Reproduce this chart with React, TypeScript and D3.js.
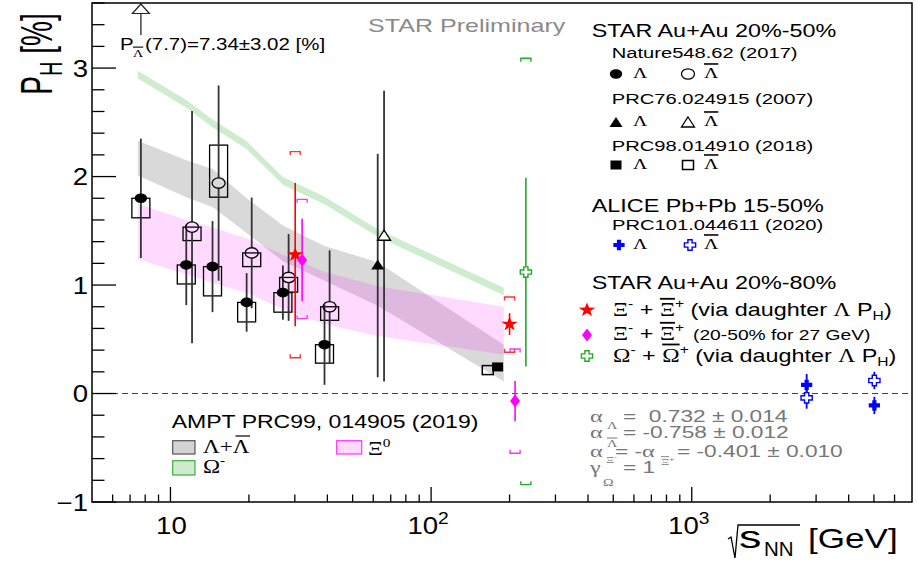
import React from 'react';
import * as d3 from 'd3';

const W = 918, H = 562;
const X0 = 92, X1 = 912, Y0 = 3, Y1 = 502;
const SANS = "'Liberation Sans', Arial, Helvetica, sans-serif";
const SERIF = "'Liberation Serif', 'DejaVu Serif', serif";

// ---- data ----
const natureLambdaE = [7.7, 11.5, 14.5, 19.6, 27, 39];
const natureLambdaP = [1.80, 1.185, 1.17, 0.84, 0.93, 0.45];
const natureLambdaStat = [0.55, 0.37, 0.42, 0.27, 0.25, 0.37];
const natureLambdaSysHi = [1.80, 1.185, 1.17, 0.84, 0.93, 0.45];
const natureLambdaSysLo = [1.62, 1.01, 0.90, 0.66, 0.75, 0.28];

const natureAntiE = [12.1, 15.3, 20.5, 28.4, 40.8];
const natureAntiP = [1.534, 1.94, 1.296, 1.07, 0.80];
const natureAntiStat = [1.07, 0.9, 0.51, 0.40, 0.52];
const natureAntiSysHi = [1.534, 2.29, 1.296, 1.07, 0.80];
const natureAntiSysLo = [1.41, 1.81, 1.17, 0.935, 0.675];
const offscaleE = 7.7;

const prc76LambdaE = [62.4];
const prc76LambdaP = [1.18];
const prc76LambdaStat = [1.03];
const prc76AntiE = [66];
const prc76AntiP = [1.45];
const prc76AntiStat = [1.34];

const prc98LambdaE = [180];
const prc98LambdaP = [0.245];
const prc98AntiE = [165];
const prc98AntiP = [0.216];

const aliceE = [2760, 5020];
const aliceLambdaP = [0.08, -0.11];
const aliceLambdaStat = [0.10, 0.08];
const aliceAntiP = [-0.04, 0.12];
const aliceAntiStat = [0.10, 0.08];

const xiStarE = [30.1, 200];
const xiStarP = [1.28, 0.64];
const xiStarStat = [0.66, 0.10];
const xiStarSysHi = [2.23, 0.89];
const xiStarSysLo = [0.33, 0.38];

const xiDiaE = [32, 210];
const xiDiaP = [1.23, -0.07];
const xiDiaStat = [0.38, 0.185];
const xiDiaSysHi = [1.79, 0.41];
const xiDiaSysLo = [0.69, -0.55];

const omegaE = [231];
const omegaP = [1.12];
const omegaStat = [0.87];
const omegaSysHi = [3.09];
const omegaSysLo = [-0.84];

const amptE = [7.5, 11.5, 14.5, 19.6, 27, 39, 62.4, 190];
const amptLamHi = [2.33, 2.15, 2.07, 1.80, 1.55, 1.36, 1.21, 0.45];
const amptLamLo = [2.01, 1.81, 1.72, 1.48, 1.22, 1.04, 0.81, 0.11];
const amptXiHi = [1.75, 1.60, 1.53, 1.43, 1.28, 1.12, 0.99, 0.80];
const amptXiLo = [1.24, 1.10, 1.02, 0.93, 0.78, 0.64, 0.53, 0.36];
const amptOmHi = [2.975, 2.705, 2.525, 2.325, 1.995, 1.815, 1.515, 0.975];
const amptOmLo = [2.905, 2.635, 2.455, 2.255, 1.925, 1.745, 1.445, 0.905];

const yTicks = [-1, 0, 1, 2, 3];
const xMajor = [10, 100, 1000];
const xLabelExp = ['', '2', '3'];

// ---- scales ----
const x = d3.scaleLog().domain([5, 7000]).range([X0, X1]);
const y = d3.scaleLinear().domain([-1, 3.6]).range([Y1, Y0]);

type TP = { x: number; y: number; size: number; sx?: number; anchor?: string; fill?: string; family?: string; children?: any };
const T = ({ x, y, size, sx = 1.28, anchor = 'start', fill = '#000', family = SANS, children }: TP) => (
  <text transform={`translate(${x},${y}) scale(${sx},1)`} fontSize={size} textAnchor={anchor as any} fill={fill} fontFamily={family} xmlSpace="preserve" style={{ whiteSpace: 'pre' }}>
    {children}
  </text>
);

const Marker = ({ type, cx, cy, color = '#000' }: { type: string; cx: number; cy: number; color?: string }) => {
  switch (type) {
    case 'circleF':
      return <ellipse cx={cx} cy={cy} rx={6.2} ry={4.8} fill={color} />;
    case 'circleO':
      return <ellipse cx={cx} cy={cy} rx={6.5} ry={5.2} fill="none" stroke={color} strokeWidth={1.3} />;
    case 'triF':
      return <path d={`M${cx},${cy - 6}L${cx + 6.5},${cy + 4}L${cx - 6.5},${cy + 4}Z`} fill={color} />;
    case 'triO':
      return <path d={`M${cx},${cy - 6}L${cx + 6.5},${cy + 4}L${cx - 6.5},${cy + 4}Z`} fill="#fff" stroke={color} strokeWidth={1.3} />;
    case 'sqF':
      return <rect x={cx - 5.5} y={cy - 4.5} width={11} height={9} fill={color} />;
    case 'sqO':
      return <rect x={cx - 5.5} y={cy - 4.5} width={11} height={9} fill="none" stroke={color} strokeWidth={1.5} />;
    case 'star': {
      const pts: string[] = [];
      for (let i = 0; i < 10; i++) {
        const r = i % 2 === 0 ? 7.5 : 3.0;
        const a = -Math.PI / 2 + (i * Math.PI) / 5;
        pts.push(`${cx + 1.15 * r * Math.cos(a)},${cy + r * Math.sin(a)}`);
      }
      return <polygon points={pts.join(' ')} fill={color} />;
    }
    case 'diamond':
      return <polygon points={`${cx},${cy - 6.5} ${cx + 5},${cy} ${cx},${cy + 6.5} ${cx - 5},${cy}`} fill={color} />;
    case 'crossF':
    case 'crossO': {
      const a = 2.1, h = 5.6, v = 5.2;
      const d = `M${cx - a},${cy - v}H${cx + a}V${cy - a}H${cx + h}V${cy + a}H${cx + a}V${cy + v}H${cx - a}V${cy + a}H${cx - h}V${cy - a}H${cx - a}Z`;
      return type === 'crossF' ? <path d={d} fill={color} /> : <path d={d} fill="#fff" stroke={color} strokeWidth={1.4} />;
    }
  }
  return null;
};

const ErrBar = ({ e, p, err, color, gap = 0, w = 1.8 }: any) => {
  const cx = x(e);
  const cy = y(p);
  if (gap > 0) {
    return (
      <g stroke={color} strokeWidth={w}>
        <line x1={cx} x2={cx} y1={y(p + err)} y2={cy - gap} />
        <line x1={cx} x2={cx} y1={cy + gap} y2={y(p - err)} />
      </g>
    );
  }
  return <line x1={cx} x2={cx} y1={y(p + err)} y2={y(p - err)} stroke={color} strokeWidth={w} />;
};

const Brackets = ({ e, hi, lo, color }: any) => {
  const cx = x(e);
  const hw = 5, t = 3.5;
  const yt = y(hi), yb = y(lo);
  return (
    <g stroke={color} strokeWidth={1.4} fill="none">
      <path d={`M${cx - hw},${yt + t}V${yt}H${cx + hw}V${yt + t}`} />
      <path d={`M${cx - hw},${yb - t}V${yb}H${cx + hw}V${yb - t}`} />
    </g>
  );
};

const band = (lo: number[], hi: number[]) =>
  d3.area<number>().x((_, i) => x(amptE[i])).y0((_, i) => y(lo[i])).y1((_, i) => y(hi[i]))(amptE as any) || '';

const GRAY = '#777';
const GSX = 1.42;
const gx = (X: number) => (X - 590) / GSX;

export default function App() {
  const yMinor: number[] = [];
  for (let v = -1; v <= 3.6001; v += 0.2) yMinor.push(Math.round(v * 10) / 10);
  const xMinor: number[] = [];
  for (const dec of [1, 10, 100, 1000]) for (let k = 1; k < 10; k++) { const v = dec * k; if (v > 5 && v < 7000) xMinor.push(v); }

  const bar = (e: number, p: number) => ({ cx: x(e), cy: y(p) });

  return (
    <svg width={W} height={H} style={{ display: 'block', position: 'absolute', left: 0, top: 0, background: '#fff' }}>
      <rect width={W} height={H} fill="#fff" />
      <defs>
        <clipPath id="plot"><rect x={X0} y={Y0} width={X1 - X0} height={Y1 - Y0} /></clipPath>
      </defs>

      {/* AMPT bands */}
      <g clipPath="url(#plot)">
        <path d={band(amptLamLo, amptLamHi)} fill="rgba(128,128,128,0.3)" />
        <path d={band(amptXiLo, amptXiHi)} fill="rgba(255,0,255,0.15)" />
        <path d={band(amptOmLo, amptOmHi)} fill="rgba(30,170,30,0.22)" />
      </g>

      {/* zero line */}
      <line x1={X0} x2={X1} y1={y(0)} y2={y(0)} stroke="#444" strokeWidth={1.2} strokeDasharray="6,4" />

      {/* Nature systematic boxes */}
      <g fill="none" stroke="#000" strokeWidth={1.3}>
        {natureLambdaE.map((e, i) => (
          <rect key={'lb' + i} x={x(e) - 9} y={y(natureLambdaSysHi[i])} width={18} height={y(natureLambdaSysLo[i]) - y(natureLambdaSysHi[i])} />
        ))}
        {natureAntiE.map((e, i) => (
          <rect key={'ab' + i} x={x(e) - 9} y={y(natureAntiSysHi[i])} width={18} height={y(natureAntiSysLo[i]) - y(natureAntiSysHi[i])} />
        ))}
      </g>

      {/* Nature error bars */}
      {natureLambdaE.map((e, i) => (
        <ErrBar key={'le' + i} e={e} p={natureLambdaP[i]} err={natureLambdaStat[i]} color="#333" />
      ))}
      {natureAntiE.map((e, i) => (
        <ErrBar key={'ae' + i} e={e} p={natureAntiP[i]} err={natureAntiStat[i]} color="#333" gap={5.2} />
      ))}
      {natureLambdaE.map((e, i) => {
        const b = bar(e, natureLambdaP[i]);
        return <Marker key={'lm' + i} type="circleF" cx={b.cx} cy={b.cy} />;
      })}
      {natureAntiE.map((e, i) => {
        const b = bar(e, natureAntiP[i]);
        return <Marker key={'am' + i} type="circleO" cx={b.cx} cy={b.cy} />;
      })}

      {/* off-scale anti-lambda at 7.7 */}
      <line x1={x(offscaleE)} x2={x(offscaleE)} y1={35} y2={13.5} stroke="#444" strokeWidth={1.5} />
      <path d={`M${x(offscaleE)},4L${x(offscaleE) + 8.5},13.5L${x(offscaleE) - 8.5},13.5Z`} fill="#fff" stroke="#222" strokeWidth={1.2} />
      <T x={120} y={50} size={16}>
        P<tspan x={(133 - 120) / 1.28} y={7} fontSize={11} fontFamily={SERIF} textDecoration="overline">Λ</tspan>
        <tspan x={(145 - 120) / 1.28} y={0}>(7.7)=7.34±3.02 [%]</tspan>
      </T>

      {/* PRC76 */}
      {prc76LambdaE.map((e, i) => <ErrBar key={'p76l' + i} e={e} p={prc76LambdaP[i]} err={prc76LambdaStat[i]} color="#333" />)}
      {prc76AntiE.map((e, i) => <ErrBar key={'p76a' + i} e={e} p={prc76AntiP[i]} err={prc76AntiStat[i]} color="#333" />)}
      {prc76LambdaE.map((e, i) => { const b = bar(e, prc76LambdaP[i]); return <Marker key={'p76lm' + i} type="triF" cx={b.cx} cy={b.cy} />; })}
      {prc76AntiE.map((e, i) => { const b = bar(e, prc76AntiP[i]); return <Marker key={'p76am' + i} type="triO" cx={b.cx} cy={b.cy} />; })}

      {/* PRC98 */}
      {prc98AntiE.map((e, i) => { const b = bar(e, prc98AntiP[i]); return <Marker key={'p98a' + i} type="sqO" cx={b.cx} cy={b.cy} />; })}
      {prc98LambdaE.map((e, i) => { const b = bar(e, prc98LambdaP[i]); return <Marker key={'p98l' + i} type="sqF" cx={b.cx} cy={b.cy} />; })}

      {/* ALICE */}
      {aliceE.map((e, i) => <ErrBar key={'alE' + i} e={e} p={aliceLambdaP[i]} err={aliceLambdaStat[i]} color="#0000ff" />)}
      {aliceE.map((e, i) => <ErrBar key={'aaE' + i} e={e} p={aliceAntiP[i]} err={aliceAntiStat[i]} color="#0000ff" />)}
      {aliceE.map((e, i) => { const b = bar(e, aliceLambdaP[i]); return <Marker key={'alm' + i} type="crossF" cx={b.cx} cy={b.cy} color="#0000ff" />; })}
      {aliceE.map((e, i) => { const b = bar(e, aliceAntiP[i]); return <Marker key={'aam' + i} type="crossO" cx={b.cx} cy={b.cy} color="#0000ff" />; })}

      {/* Xi, Omega */}
      {xiStarE.map((e, i) => <Brackets key={'xsb' + i} e={e} hi={xiStarSysHi[i]} lo={xiStarSysLo[i]} color="#ff3333" />)}
      {xiDiaE.map((e, i) => <Brackets key={'xdb' + i} e={e} hi={xiDiaSysHi[i]} lo={xiDiaSysLo[i]} color="#ff33ff" />)}
      {omegaE.map((e, i) => <Brackets key={'omb' + i} e={e} hi={omegaSysHi[i]} lo={omegaSysLo[i]} color="#22aa22" />)}
      {xiStarE.map((e, i) => <ErrBar key={'xse' + i} e={e} p={xiStarP[i]} err={xiStarStat[i]} color="#ff0000" w={1.6} />)}
      {xiDiaE.map((e, i) => <ErrBar key={'xde' + i} e={e} p={xiDiaP[i]} err={xiDiaStat[i]} color="#ff00ff" w={1.6} />)}
      {omegaE.map((e, i) => <ErrBar key={'ome' + i} e={e} p={omegaP[i]} err={omegaStat[i]} color="#22aa22" w={1.6} />)}
      {xiStarE.map((e, i) => { const b = bar(e, xiStarP[i]); return <Marker key={'xsm' + i} type="star" cx={b.cx} cy={b.cy} color="#ff0000" />; })}
      {xiDiaE.map((e, i) => { const b = bar(e, xiDiaP[i]); return <Marker key={'xdm' + i} type="diamond" cx={b.cx} cy={b.cy} color="#ff00ff" />; })}
      {omegaE.map((e, i) => { const b = bar(e, omegaP[i]); return <Marker key={'omm' + i} type="crossO" cx={b.cx} cy={b.cy} color="#22aa22" />; })}

      {/* frame & ticks */}
      <g stroke="#000" strokeWidth={1.3}>
        {yMinor.map((v) => {
          const major = Math.abs(v - Math.round(v)) < 1e-6;
          return <line key={'ym' + v} x1={X0} x2={X0 + (major ? 24 : 12.5)} y1={y(v)} y2={y(v)} />;
        })}
        {xMinor.map((v) => {
          const major = xMajor.includes(v);
          return <line key={'xm' + v} x1={x(v)} x2={x(v)} y1={Y1} y2={Y1 - (major ? 15 : 7.5)} />;
        })}
        <rect x={X0} y={Y0} width={X1 - X0} height={Y1 - Y0} fill="none" strokeWidth={1.5} />
      </g>

      {/* tick labels */}
      {yTicks.map((v) => (
        <T key={'yl' + v} x={88} y={y(v) + 8.5} size={23} sx={1.2} anchor="end">{v < 0 ? '\u2212' + Math.abs(v) : String(v)}</T>
      ))}
      {xMajor.map((v, i) => (
        <T key={'xl' + v} x={x(v) + (xLabelExp[i] ? -3 : 1)} y={534} size={23} sx={1.2} anchor="middle">
          10{xLabelExp[i] ? <tspan dy={-10} fontSize={16}>{xLabelExp[i]}</tspan> : null}
        </T>
      ))}

      {/* axis titles */}
      <text transform="translate(52,54) scale(1.6,1) rotate(-90)" fontSize={28} fontFamily={SANS} textAnchor="middle">
        P<tspan dy={6} fontSize={20}>H</tspan><tspan dy={-6}> [%]</tspan>
      </text>
      <path d="M728,539 L731,537 L735,558 L738,525 L800,525" fill="none" stroke="#000" strokeWidth={1.3} />
      <T x={739} y={548} size={32} sx={1.4}>s</T>
      <T x={764} y={556} size={19.5} sx={1.05}>NN</T>
      <T x={808} y={548} size={27} sx={1.3}>[GeV]</T>

      {/* STAR preliminary */}
      <T x={368} y={32} size={19} sx={1.32} fill="#8a8a8a">STAR Preliminary</T>

      {/* legend top right */}
      <T x={591.7} y={36.7} size={18} sx={1.3}>STAR Au+Au 20%-50%</T>
      <T x={611.7} y={58.3} size={15.5} sx={1.3}>Nature548.62 (2017)</T>
      <Marker type="circleF" cx={616} cy={74} />
      <T x={633} y={78} size={15.5} family={SERIF}>Λ</T>
      <Marker type="circleO" cx={688} cy={74} />
      <T x={704} y={78} size={15.5} family={SERIF}><tspan textDecoration="overline">Λ</tspan></T>

      <T x={611.7} y={104.3} size={15.5} sx={1.3}>PRC76.024915 (2007)</T>
      <Marker type="triF" cx={616} cy={123} />
      <T x={633} y={126} size={15.5} family={SERIF}>Λ</T>
      <Marker type="triO" cx={688} cy={123} />
      <T x={704} y={126} size={15.5} family={SERIF}><tspan textDecoration="overline">Λ</tspan></T>

      <T x={611.7} y={151} size={15.5} sx={1.3}>PRC98.014910 (2018)</T>
      <Marker type="sqF" cx={616} cy={165} />
      <T x={633} y={169} size={15.5} family={SERIF}>Λ</T>
      <Marker type="sqO" cx={688} cy={165} />
      <T x={704} y={169} size={15.5} family={SERIF}><tspan textDecoration="overline">Λ</tspan></T>

      <T x={591.7} y={211.7} size={18} sx={1.3}>ALICE Pb+Pb 15-50%</T>
      <T x={612} y={230} size={15.5} sx={1.3}>PRC101.044611 (2020)</T>
      <Marker type="crossF" cx={619} cy={245} color="#0000ff" />
      <T x={633} y={249} size={15.5} family={SERIF}>Λ</T>
      <Marker type="crossO" cx={690} cy={245} color="#0000ff" />
      <T x={704} y={249} size={15.5} family={SERIF}><tspan textDecoration="overline">Λ</tspan></T>

      <T x={591.7} y={289.3} size={18} sx={1.3}>STAR Au+Au 20%-80%</T>
      <Marker type="star" cx={587} cy={310} color="#ff0000" />
      <T x={613} y={316} size={18} sx={1.3}>
        <tspan fontFamily={SERIF}>Ξ</tspan><tspan dy={-8} fontSize={12}>-</tspan><tspan dy={8}> + </tspan>
        <tspan fontFamily={SERIF} textDecoration="overline">Ξ</tspan><tspan dy={-8} fontSize={12}>+</tspan>
        <tspan dy={8}> (via daughter </tspan><tspan fontFamily={SERIF}>Λ</tspan><tspan> P</tspan><tspan dy={4} fontSize={12}>H</tspan><tspan dy={-4}>)</tspan>
      </T>
      <Marker type="diamond" cx={587} cy={335} color="#ff00ff" />
      <T x={613} y={340} size={18} sx={1.3}>
        <tspan fontFamily={SERIF}>Ξ</tspan><tspan dy={-8} fontSize={12}>-</tspan><tspan dy={8}> + </tspan>
        <tspan fontFamily={SERIF} textDecoration="overline">Ξ</tspan><tspan dy={-8} fontSize={12}>+</tspan>
        <tspan x={(693 - 613) / 1.3} y={0} fontSize={14.8}>(20-50% for 27 GeV)</tspan>
      </T>
      <Marker type="crossO" cx={587} cy={356} color="#22aa22" />
      <T x={613} y={361.7} size={18} sx={1.3}>
        <tspan fontFamily={SERIF}>Ω</tspan><tspan dy={-8} fontSize={12}>-</tspan><tspan dy={8}> + </tspan>
        <tspan fontFamily={SERIF} textDecoration="overline">Ω</tspan><tspan dy={-8} fontSize={12}>+</tspan>
        <tspan dy={8}> (via daughter </tspan><tspan fontFamily={SERIF}>Λ</tspan><tspan> P</tspan><tspan dy={4} fontSize={12}>H</tspan><tspan dy={-4}>)</tspan>
      </T>

      {/* alpha text */}
      <T x={590} y={421.7} size={16} sx={GSX} fill={GRAY}>
        <tspan fontFamily={SERIF} fontSize={17}>α</tspan>
        <tspan x={gx(607)} y={7} fontFamily={SERIF} fontSize={10}>Λ</tspan>
        <tspan x={gx(623)} y={0}>=  0.732 ± 0.014</tspan>
      </T>
      <T x={590} y={438.3} size={16} sx={GSX} fill={GRAY}>
        <tspan fontFamily={SERIF} fontSize={17}>α</tspan>
        <tspan x={gx(607)} y={9} fontFamily={SERIF} fontSize={10} textDecoration="overline">Λ</tspan>
        <tspan x={gx(623)} y={0}>= -0.758 ± 0.012</tspan>
      </T>
      <T x={590} y={456.7} size={16} sx={GSX} fill={GRAY}>
        <tspan fontFamily={SERIF} fontSize={17}>α</tspan>
        <tspan x={gx(606)} y={6} fontFamily={SERIF} fontSize={9}>Ξ</tspan>
        <tspan y={2} fontSize={6}>-</tspan>
        <tspan x={gx(615)} y={0}>= -</tspan>
        <tspan fontFamily={SERIF} fontSize={17}>α</tspan>
        <tspan x={gx(661)} y={8.5} fontFamily={SERIF} fontSize={9} textDecoration="overline">Ξ</tspan>
        <tspan y={4.5} fontSize={6}>+</tspan>
        <tspan x={gx(677)} y={0}>= -0.401 ± 0.010</tspan>
      </T>
      <T x={590} y={473.3} size={16} sx={GSX} fill={GRAY}>
        <tspan fontFamily={SERIF} fontSize={17}>γ</tspan>
        <tspan x={gx(603)} y={12.5} fontFamily={SERIF} fontSize={10}>Ω</tspan>
        <tspan x={gx(623)} y={0}>= 1</tspan>
      </T>

      {/* AMPT legend */}
      <T x={171.7} y={428.3} size={18}>AMPT PRC99, 014905 (2019)</T>
      <rect x={172.7} y={440.7} width={22.3} height={13.3} fill="#d4d4d4" stroke="#555" strokeWidth={1.2} />
      <T x={203} y={453.3} size={18} family={SERIF}>Λ+Λ</T>
      <line x1={235.5} x2={250} y1={436} y2={436} stroke="#000" strokeWidth={1.2} />
      <rect x={336.7} y={440.7} width={25} height={13.3} fill="#ffd9ff" stroke="#ff33ff" strokeWidth={1.2} />
      <T x={368} y={455} size={18} family={SERIF}>Ξ<tspan dy={-8} fontSize={12}>0</tspan></T>
      <rect x={172.7} y={460.7} width={22.3} height={14.3} fill="#cdeccd" stroke="#44aa44" strokeWidth={1.2} />
      <T x={203} y={473} size={18} family={SERIF}>Ω<tspan dy={-8} fontSize={12}>-</tspan></T>
    </svg>
  );
}
